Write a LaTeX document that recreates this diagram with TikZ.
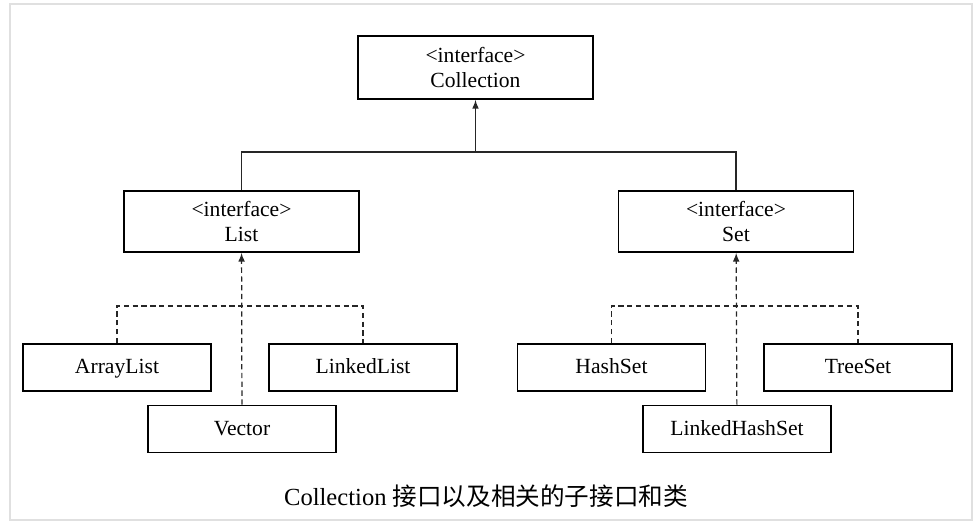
\documentclass[tikz,border=0pt]{standalone}
\usepackage{fontspec}
\setmainfont{Liberation Serif}
\newfontfamily\cjk{Noto Sans CJK SC}
\usepackage{tikz}

\begin{document}
\begin{tikzpicture}[x = 0.02cm, y = -0.02cm, line width = 0.7pt,
                      >= {latex},
                      box/.style = {draw, line width = 1.1pt, inner sep = 0pt, align = center,
                                    font = \fontsize{12.3}{14.5}\selectfont},
                      iface/.style = {box, minimum width = 4.7cm, minimum height = 1.22cm},
                      impl/.style = {box, minimum width = 3.76cm, minimum height = 0.94cm,
                                     text height = 1.8ex, text depth = 0.3ex},
                      link/.style = {draw = black!85},
                      impl link/.style = {link, dash pattern = on 3pt off 2pt}]
    \useasboundingbox (0, 0) rectangle (975, 524);
    \draw[line width = 0.8pt, black!12] (10, 4) rectangle (972, 520);

    \node [iface, minimum height = 1.26cm] (coll) at (475.5, 67.5) {<interface>\\Collection};
    \node [iface] (list) at (241.5, 221.5) {<interface>\\List};
    \node [iface] (set) at (736, 221.5) {<interface>\\Set};
    \coordinate (cj) at (475.5, 152);
    \draw[link] (list.north) |- (cj) -| (set.north);
    \draw[link, ->] (cj) -- (coll);

    \node [impl] (arr) at (117, 367.5) {ArrayList};
    \node [impl] (lnk) at (363, 367.5) {LinkedList};
    \node [impl] (vec) at (242, 429) {Vector};
    \coordinate (lj) at (242, 306);
    \draw[impl link] (arr.north) |- (lj) -| (lnk.north);
    \draw[impl link, ->] (vec) -- (list);

    \node [impl] (hash) at (611.5, 367.5) {HashSet};
    \node [impl] (tree) at (858, 367.5) {TreeSet};
    \node [impl] (lhs) at (737, 429) {LinkedHashSet};
    \coordinate (sj) at (737, 306);
    \draw[impl link] (hash.north) |- (sj) -| (tree.north);
    \draw[impl link, ->] (lhs) -- (set);

    \node [font = \fontsize{14}{16}\selectfont] (cap) at (486, 496) {Collection {\cjk 接口以及相关的子接口和类}};
\end{tikzpicture}
\end{document}
